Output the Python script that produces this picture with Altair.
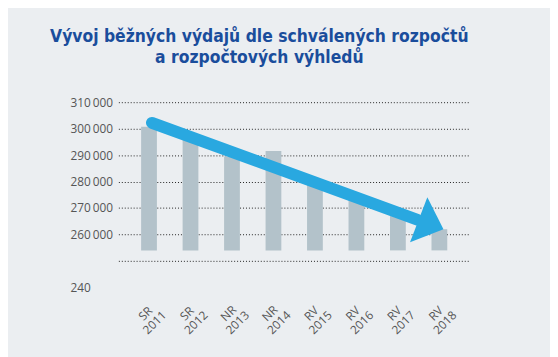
import json
import altair as alt
import pandas as pd

categories = ["SR 2011", "SR 2012", "NR 2013", "NR 2014", "RV 2015", "RV 2016", "RV 2017", "RV 2018"]
values = [300700, 296000, 289500, 291600, 281000, 275000, 268500, 262000]
bar_base = 254000
y_ticks = [240000, 250000, 260000, 270000, 280000, 290000, 300000, 310000]

# arrow (in data units: x = category index, y = value)
arrow_x = [0.07, 6.47]
arrow_y = [302200, 265600]
head_x = [6.8]
head_y = [263800]

bars = pd.DataFrame({"i": list(range(len(categories))), "cat": categories,
                     "v": values, "base": [bar_base] * len(values)})
shaft = pd.DataFrame({"i": arrow_x, "v": arrow_y})
head = pd.DataFrame({"i": head_x, "v": head_y})

label_expr = "split(" + json.dumps(categories) + "[datum.value], ' ')"

xscale = alt.Scale(domain=[-0.62, 7.6], nice=False, zero=False)
yscale = alt.Scale(domain=[240000, 310000], nice=False, zero=False)

xaxis = alt.Axis(values=list(range(len(categories))), labelExpr=label_expr,
                 labelAngle=-45, labelAlign="center", labelBaseline="middle",
                 labelPadding=26, labelLineHeight=13, labelFont="Open Sans",
                 labelFontSize=12, labelColor="#555555", labelOffset=-4,
                 labelOverlap=False, ticks=False,
                 domain=False, grid=False, title=None)
yaxis = alt.Axis(values=y_ticks,
                 labelExpr="datum.value == 240000 ? '240' : datum.value == 250000 ? '' : replace(format(datum.value, ','), ',', '\u2009')",
                 labelAlign="left", labelPadding=49, labelFont="Open Sans",
                 labelFontSize=12, labelColor="#555555", labelOverlap=False,
                 ticks=False, domain=False,
                 grid=True, gridColor="#222222", gridDash=[1, 2], gridWidth=1,
                 gridOpacity={"expr": "datum.value == 240000 ? 0 : 1"}, title=None)

bar_layer = alt.Chart(bars).mark_bar(color="#b3c2ca", width=16).encode(
    x=alt.X("i:Q", scale=xscale, axis=xaxis),
    y=alt.Y("v:Q", scale=yscale, axis=yaxis),
    y2="base:Q",
)

shaft_layer = alt.Chart(shaft).mark_line(color="#29a8e0", strokeWidth=12, strokeCap="round").encode(
    x=alt.X("i:Q", scale=xscale, axis=xaxis),
    y=alt.Y("v:Q", scale=yscale, axis=yaxis),
)

head_layer = alt.Chart(head).mark_point(
    shape="M -0.55 -1 L 0.55 0 L -0.55 1 Z", filled=True, color="#29a8e0",
    opacity=1, size=2400, angle=21, strokeWidth=0,
).encode(
    x=alt.X("i:Q", scale=xscale, axis=xaxis),
    y=alt.Y("v:Q", scale=yscale, axis=yaxis),
)

chart = alt.layer(bar_layer, shaft_layer, head_layer).properties(
    width=356, height=188,
    autosize=alt.AutoSizeParams(type="none"),
    padding={"left": 112, "top": 93, "right": 82, "bottom": 68},
    background="#ebeef1",
    title=alt.TitleParams(
        text=["Vývoj běžných výdajů dle schválených rozpočtů", "a rozpočtových výhledů"],
        font="DejaVu Sans Condensed, Roboto, sans-serif", fontSize=17.6, fontWeight="bold",
        color="#1a4d9c", anchor="middle", dx=-35, offset=30, lineHeight=21,
    ),
).configure_view(stroke=None)

chart.save("out.html", embed_options={"renderer": "svg", "actions": False})
